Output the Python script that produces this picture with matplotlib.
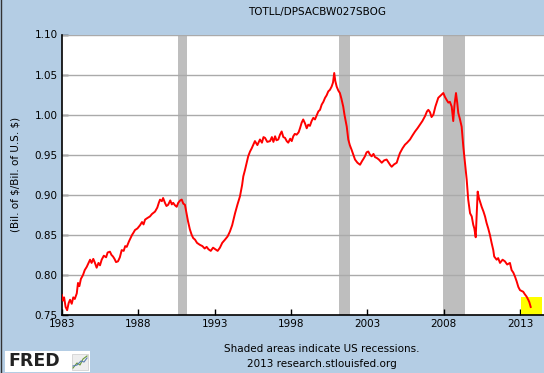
import matplotlib
matplotlib.use("Agg")
import matplotlib.pyplot as plt
from matplotlib.patches import Rectangle
from matplotlib.lines import Line2D

# ---- data (decimal years, ratio) ----
years = [
    1983.00, 1983.08, 1983.15, 1983.25, 1983.35, 1983.45, 1983.54, 1983.65, 1983.75, 1983.85,
    1983.98, 1984.06, 1984.15, 1984.25, 1984.39, 1984.50, 1984.63, 1984.75, 1984.85, 1984.95,
    1985.06, 1985.15, 1985.28, 1985.40, 1985.50, 1985.61, 1985.75, 1985.90, 1986.00, 1986.15,
    1986.25, 1986.35, 1986.45, 1986.55, 1986.68, 1986.80, 1986.92, 1987.05, 1987.15, 1987.25,
    1987.40, 1987.50, 1987.60, 1987.70, 1987.79, 1987.95, 1988.12, 1988.25, 1988.35, 1988.45,
    1988.60, 1988.77, 1988.90, 1989.10, 1989.25, 1989.35, 1989.43, 1989.55, 1989.63, 1989.75,
    1989.85, 1989.96, 1990.10, 1990.20, 1990.29, 1990.40, 1990.52, 1990.62, 1990.75, 1990.85,
    1990.95, 1991.06, 1991.15, 1991.26, 1991.38, 1991.50, 1991.60, 1991.72, 1991.85, 1992.04,
    1992.20, 1992.35, 1992.48, 1992.60, 1992.75, 1992.90, 1993.05, 1993.20, 1993.35, 1993.50,
    1993.68, 1993.85, 1994.00, 1994.15, 1994.34, 1994.50, 1994.66, 1994.80, 1994.88, 1994.99,
    1995.10, 1995.20, 1995.32, 1995.43, 1995.55, 1995.64, 1995.80, 1995.97, 1996.10, 1996.20,
    1996.30, 1996.45, 1996.63, 1996.75, 1996.85, 1996.96, 1997.05, 1997.17, 1997.28, 1997.39,
    1997.50, 1997.61, 1997.72, 1997.82, 1997.95, 1998.05, 1998.15, 1998.25, 1998.37, 1998.50,
    1998.59, 1998.70, 1998.80, 1998.92, 1999.03, 1999.13, 1999.24, 1999.35, 1999.46, 1999.57,
    1999.68, 1999.79, 1999.90, 2000.01, 2000.12, 2000.23, 2000.33, 2000.44, 2000.55, 2000.66,
    2000.75, 2000.83, 2000.90, 2000.99, 2001.10, 2001.20, 2001.30, 2001.42, 2001.50, 2001.58,
    2001.65, 2001.75, 2001.85, 2001.97, 2002.08, 2002.19, 2002.35, 2002.52, 2002.65, 2002.75,
    2002.84, 2002.95, 2003.06, 2003.17, 2003.28, 2003.40, 2003.50, 2003.61, 2003.75, 2003.94,
    2004.10, 2004.26, 2004.40, 2004.50, 2004.59, 2004.75, 2004.92, 2005.02, 2005.13, 2005.30,
    2005.46, 2005.60, 2005.79, 2005.95, 2006.12, 2006.28, 2006.44, 2006.60, 2006.77, 2006.90,
    2006.99, 2007.10, 2007.20, 2007.32, 2007.45, 2007.55, 2007.64, 2007.80, 2007.97, 2008.08,
    2008.20, 2008.30, 2008.40, 2008.52, 2008.62, 2008.70, 2008.80, 2008.88, 2008.95, 2009.05,
    2009.17, 2009.28, 2009.39, 2009.50, 2009.60, 2009.72, 2009.83, 2009.93, 2010.00, 2010.09,
    2010.15, 2010.22, 2010.30, 2010.40, 2010.48, 2010.60, 2010.70, 2010.80, 2010.91, 2011.02,
    2011.13, 2011.24, 2011.30, 2011.46, 2011.56, 2011.68, 2011.85, 2012.00, 2012.15, 2012.33,
    2012.44, 2012.55, 2012.66, 2012.77, 2012.88, 2012.99, 2013.10, 2013.20, 2013.30, 2013.42,
    2013.53, 2013.60, 2013.69,
]
ratio = [
    0.775, 0.768, 0.772, 0.760, 0.756, 0.765, 0.769, 0.764, 0.772, 0.770,
    0.777, 0.790, 0.786, 0.795, 0.800, 0.806, 0.810, 0.815, 0.819, 0.815,
    0.820, 0.816, 0.809, 0.815, 0.812, 0.819, 0.824, 0.822, 0.828, 0.829,
    0.825, 0.823, 0.820, 0.816, 0.817, 0.822, 0.831, 0.830, 0.836, 0.835,
    0.842, 0.846, 0.850, 0.853, 0.856, 0.858, 0.862, 0.866, 0.863, 0.869,
    0.871, 0.873, 0.876, 0.879, 0.884, 0.890, 0.894, 0.892, 0.896, 0.890,
    0.886, 0.8875, 0.893, 0.888, 0.890, 0.887, 0.885, 0.890, 0.893, 0.894,
    0.889, 0.8875, 0.878, 0.867, 0.857, 0.850, 0.846, 0.844, 0.840, 0.8375,
    0.836, 0.833, 0.835, 0.832, 0.830, 0.834, 0.832, 0.830, 0.834, 0.840,
    0.844, 0.848, 0.854, 0.862, 0.877, 0.888, 0.898, 0.912, 0.923, 0.931,
    0.940, 0.948, 0.954, 0.958, 0.963, 0.967, 0.962, 0.969, 0.965, 0.972,
    0.971, 0.966, 0.967, 0.972, 0.966, 0.973, 0.968, 0.969, 0.975, 0.979,
    0.972, 0.971, 0.967, 0.965, 0.970, 0.967, 0.973, 0.976, 0.975, 0.978,
    0.983, 0.990, 0.994, 0.989, 0.983, 0.9875, 0.986, 0.992, 0.996, 0.994,
    0.999, 1.004, 1.006, 1.0125, 1.016, 1.021, 1.024, 1.029, 1.031, 1.035,
    1.040, 1.052, 1.042, 1.035, 1.030, 1.027, 1.020, 1.010, 1.000, 0.992,
    0.985, 0.969, 0.962, 0.956, 0.950, 0.944, 0.940, 0.9375, 0.942, 0.945,
    0.948, 0.953, 0.954, 0.950, 0.948, 0.951, 0.947, 0.946, 0.944, 0.940,
    0.943, 0.944, 0.940, 0.937, 0.935, 0.938, 0.940, 0.946, 0.952, 0.958,
    0.9625, 0.965, 0.969, 0.974, 0.979, 0.983, 0.9875, 0.992, 0.998, 1.004,
    1.006, 1.003, 0.997, 1.000, 1.010, 1.016, 1.021, 1.024, 1.027, 1.022,
    1.018, 1.015, 1.016, 1.010, 0.992, 1.012, 1.027, 1.015, 1.002, 0.995,
    0.985, 0.960, 0.940, 0.919, 0.894, 0.877, 0.873, 0.8625, 0.858, 0.847,
    0.873, 0.904, 0.896, 0.890, 0.885, 0.879, 0.873, 0.865, 0.858, 0.850,
    0.840, 0.831, 0.823, 0.819, 0.821, 0.815, 0.819, 0.817, 0.813, 0.815,
    0.806, 0.803, 0.798, 0.792, 0.785, 0.781, 0.780, 0.779, 0.776, 0.773,
    0.769, 0.766, 0.760,
]
recession_starts = [1990.58, 2001.17, 2007.92]
recession_ends = [1991.17, 2001.83, 2009.42]
highlight_x = [2013.07, 2014.42]
highlight_y = [0.75, 0.772]
x_ticks = [1983, 1988, 1993, 1998, 2003, 2008, 2013]
x_tick_labels = ["1983", "1988", "1993", "1998", "2003", "2008", "2013"]
y_ticks = [0.75, 0.80, 0.85, 0.90, 0.95, 1.00, 1.05, 1.10]
y_tick_labels = ["0.75", "0.80", "0.85", "0.90", "0.95", "1.00", "1.05", "1.10"]

BG = "#B4CDE4"
W, H = 544, 373
fig = plt.figure(figsize=(W / 100, H / 100), dpi=100, facecolor=BG)
ax = fig.add_axes([61.8 / W, 1 - 315 / H, 1 - 61.8 / W, (315 - 34.5) / H])
ax.set_facecolor("white")

ax.set_xlim(1983.0, 2014.56)
ax.set_ylim(0.75, 1.10)

for s, e in zip(recession_starts, recession_ends):
    ax.axvspan(s, e, color="#BEBEBE", lw=0, zorder=1)

for yv in y_ticks[1:]:
    ax.axhline(yv, color="#AAAAAA", lw=1.0, zorder=2)

ax.add_patch(Rectangle((highlight_x[0], highlight_y[0]), highlight_x[1] - highlight_x[0],
                       highlight_y[1] - highlight_y[0], facecolor="#FFFF00", edgecolor="none", zorder=2.5))

ax.plot(years, ratio, color="#FF0000", lw=1.4, zorder=3)

ax.set_xticks(x_ticks)
ax.set_xticklabels(x_tick_labels)
ax.set_yticks(y_ticks)
ax.set_yticklabels(y_tick_labels)
ax.tick_params(direction="in", length=4, width=1, colors="black", labelsize=7.5, pad=3)
for side in ["top", "right"]:
    ax.spines[side].set_visible(False)
for side in ["left", "bottom"]:
    ax.spines[side].set_color("black")
    ax.spines[side].set_linewidth(1.2)

ax.set_ylabel("(Bil. of \\$/Bil. of U.S. \\$)", fontsize=7.5, labelpad=10)

fig.text(317 / W, 1 - 12 / H, "TOTLL/DPSACBW027SBOG", ha="center", va="center", fontsize=7.5)
fig.text(322 / W, 1 - 349 / H, "Shaded areas indicate US recessions.", ha="center", va="center", fontsize=7.5)
fig.text(322 / W, 1 - 364 / H, "2013 research.stlouisfed.org", ha="center", va="center", fontsize=7.5)

# FRED logo
fig.patches.append(Rectangle((5 / W, 1 - 372 / H), 85 / W, 21 / H, transform=fig.transFigure,
                             facecolor="white", edgecolor="none"))
fig.text(8 / W, 1 - 361.5 / H, "FRED", ha="left", va="center", fontsize=12.5,
         fontweight="bold", color="#222222")
fig.patches.append(Rectangle((72 / W, 1 - 370 / H), 16 / W, 16 / H, transform=fig.transFigure,
                             facecolor="#EEEEEE", edgecolor="#CCCCCC", lw=0.5))
fig.lines.append(Line2D([73 / W, 77 / W, 80 / W, 83 / W, 87 / W],
                        [1 - 368 / H, 1 - 363 / H, 1 - 365 / H, 1 - 359 / H, 1 - 356 / H],
                        transform=fig.transFigure, color="#6A9A3A", lw=0.8))
fig.lines.append(Line2D([73 / W, 77 / W, 81 / W, 84 / W, 87 / W],
                        [1 - 366 / H, 1 - 365 / H, 1 - 361 / H, 1 - 362 / H, 1 - 358 / H],
                        transform=fig.transFigure, color="#5A7FB0", lw=0.8))
# left dark border
fig.lines.append(Line2D([0.5 / W, 0.5 / W], [0, 1], transform=fig.transFigure, color="#333333", lw=1))

fig.savefig("out.png", dpi=100, facecolor=BG)
